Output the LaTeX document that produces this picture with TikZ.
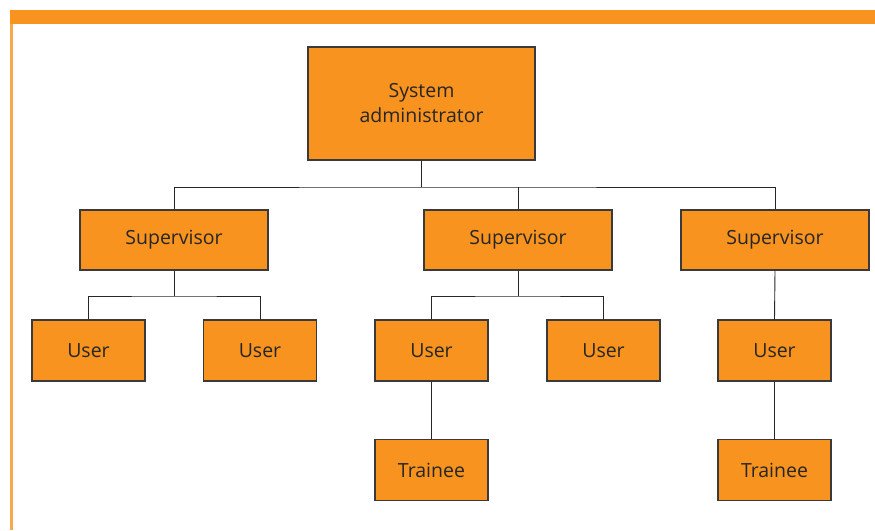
\documentclass[tikz,border=0pt]{standalone}
\usepackage{fontspec}
\setmainfont{Open Sans}
\usetikzlibrary{positioning}

\definecolor{boxorange}{HTML}{F7931E}
\definecolor{edgegray}{HTML}{3A3A3A}

\tikzset{
    rolebox/.style = {draw=edgegray, line width=1.2pt, fill=boxorange,
        minimum width=188pt, minimum height=60pt, inner sep=0pt,
        font=\fontsize{19.5}{25}\selectfont, text=black!85, align=center},
    userbox/.style = {rolebox, minimum width=113pt, minimum height=61pt},
    link/.style = {draw=black!85, line width=0.9pt}
}

\begin{document}
\begin{tikzpicture}[x=1pt, y=-1pt]
    \useasboundingbox (0,0) rectangle (875,530);
    % frame
    \fill[boxorange] (10,10) rectangle (875,24);
    \fill[boxorange!80] (10,24) rectangle (12.5,530);

    % top
    \node[rolebox, minimum width=227pt, minimum height=113pt] (admin) at (421.5,103.5) {System\\administrator};

    % supervisors
    \node[rolebox] (sup1) at (174,240) {Supervisor};
    \node[rolebox] (sup2) at (518,240) {Supervisor};
    \node[rolebox] (sup3) at (775,240) {Supervisor};

    % users
    \node[userbox] (user1) at (88.5,350.5) {User};
    \node[userbox] (user2) at (260,350.5) {User};
    \node[userbox] (user3) at (431.5,350.5) {User};
    \node[userbox] (user4) at (603.5,350.5) {User};
    \node[userbox] (user5) at (774.5,350.5) {User};

    % trainees
    \node[userbox] (trainee1) at (431.5,470) {Trainee};
    \node[userbox] (trainee2) at (774.5,470) {Trainee};

    % connectors
    \coordinate (busA) at (421.5,187);
    \draw[link] (admin.south) -- (busA);
    \draw[link] (sup1.north) |- (busA) -| (sup3.north);
    \draw[link] (sup2.north) -- (sup2.north |- busA);

    \coordinate (busB) at (174,296);
    \draw[link] (sup1.south) -- (busB);
    \draw[link] (user1.north) |- (busB) -| (user2.north);

    \coordinate (busC) at (518,296);
    \draw[link] (sup2.south) -- (busC);
    \draw[link] (user3.north) |- (busC) -| (user4.north);

    \draw[link] (sup3.south) -- (user5.north);
    \draw[link] (user3.south) -- (trainee1.north);
    \draw[link] (user5.south) -- (trainee2.north);
\end{tikzpicture}
\end{document}
